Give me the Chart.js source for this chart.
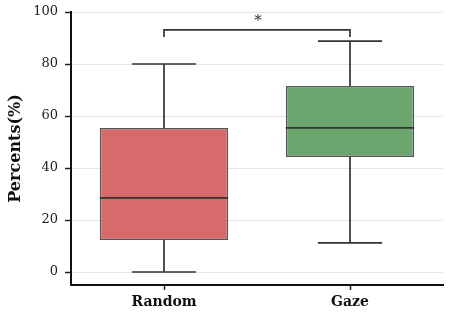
<!DOCTYPE html>
<html>
<head>
<meta charset="utf-8">
<script src="https://cdn.jsdelivr.net/npm/chart.js@4"></script>
<style>
  html, body { margin: 0; padding: 0; background: #fff; }
  #wrap { width: 450px; height: 315px; }
</style>
</head>
<body>
<div id="wrap"><canvas id="chart" width="450" height="315"></canvas></div>
<script>
// Box plot values
const categories = ['Random', 'Gaze'];
const whiskerLow = [0, 11.2];
const q1 = [12.3, 44.2];
const median = [28.5, 55.4];
const q3 = [55.4, 71.5];
const whiskerHigh = [80, 88.8];
const yTicks = [0, 20, 40, 60, 80, 100];

// significance bracket between the two groups
const bracketLow = 90.4;
const bracketHigh = 93.1;
const bracketLabel = '*';

const boxColors = ['rgba(214, 102, 102, 0.97)', 'rgba(104, 162, 106, 0.97)'];
const lineColor = '#333';
const FONT = "'DejaVu Serif', serif";

// draws whiskers, medians and the bracket using the chart scales
const boxExtras = {
  id: 'boxExtras',
  afterDatasetsDraw(chart) {
    const ctx = chart.ctx;
    const x = chart.scales.x;
    const y = chart.scales.y;
    const bars = chart.getDatasetMeta(0).data;
    ctx.save();
    ctx.strokeStyle = lineColor;
    ctx.lineWidth = 1.7;
    categories.forEach((c, i) => {
      const cx = x.getPixelForValue(i);
      const half = bars[i].width / 2;
      const cap = half / 2;
      ctx.beginPath();
      // upper whisker
      ctx.moveTo(cx, y.getPixelForValue(q3[i]));
      ctx.lineTo(cx, y.getPixelForValue(whiskerHigh[i]));
      ctx.moveTo(cx - cap, y.getPixelForValue(whiskerHigh[i]));
      ctx.lineTo(cx + cap, y.getPixelForValue(whiskerHigh[i]));
      // lower whisker
      ctx.moveTo(cx, y.getPixelForValue(q1[i]));
      ctx.lineTo(cx, y.getPixelForValue(whiskerLow[i]));
      ctx.moveTo(cx - cap, y.getPixelForValue(whiskerLow[i]));
      ctx.lineTo(cx + cap, y.getPixelForValue(whiskerLow[i]));
      // median
      ctx.moveTo(cx - half, y.getPixelForValue(median[i]));
      ctx.lineTo(cx + half, y.getPixelForValue(median[i]));
      ctx.stroke();
    });
    // bracket
    const x0 = x.getPixelForValue(0);
    const x1 = x.getPixelForValue(1);
    const yl = y.getPixelForValue(bracketLow);
    const yh = y.getPixelForValue(bracketHigh);
    ctx.beginPath();
    ctx.moveTo(x0, yl);
    ctx.lineTo(x0, yh);
    ctx.lineTo(x1, yh);
    ctx.lineTo(x1, yl);
    ctx.stroke();
    ctx.fillStyle = lineColor;
    ctx.font = '15px ' + FONT;
    ctx.textAlign = 'center';
    ctx.textBaseline = 'bottom';
    ctx.fillText(bracketLabel, (x0 + x1) / 2 + 1, yh - 1.5);
    ctx.restore();
  }
};

new Chart(document.getElementById('chart'), {
  type: 'bar',
  data: {
    labels: categories,
    datasets: [{
      data: categories.map((c, i) => [q1[i], q3[i]]),
      backgroundColor: boxColors,
      borderColor: '#555',
      borderWidth: 1.5,
      borderSkipped: false,
      categoryPercentage: 1,
      barPercentage: 0.69
    }]
  },
  options: {
    responsive: false,
    animation: false,
    layout: { padding: { top: 12, right: 7, left: 0, bottom: 0 } },
    plugins: { legend: { display: false }, tooltip: { enabled: false } },
    scales: {
      x: {
        afterFit: s => { s.height = 30; },
        grid: { drawOnChartArea: false, offset: false, tickLength: 5, tickColor: '#222', tickWidth: 1.5 },
        border: { color: '#111', width: 2 },
        ticks: { color: '#111', font: { family: FONT, size: 14, weight: 'bold' }, padding: 4 }
      },
      y: {
        min: -5,
        max: 100,
        afterFit: s => { s.width = 71; s.paddingTop = 8; s.paddingBottom = 8; },
        afterBuildTicks: s => { s.ticks = yTicks.map(v => ({ value: v })); },
        grid: { color: '#e6e6e6', lineWidth: 1, tickLength: 6, tickColor: '#222', tickWidth: 1.5 },
        border: { color: '#111', width: 2 },
        ticks: { color: '#222', font: { family: FONT, size: 13 }, padding: 7 },
        title: {
          display: true,
          text: 'Percents(%)',
          color: '#111',
          font: { family: FONT, size: 16, weight: 'bold' },
          padding: { top: 6, bottom: 0 }
        }
      }
    }
  },
  plugins: [boxExtras]
});
</script>
</body>
</html>
